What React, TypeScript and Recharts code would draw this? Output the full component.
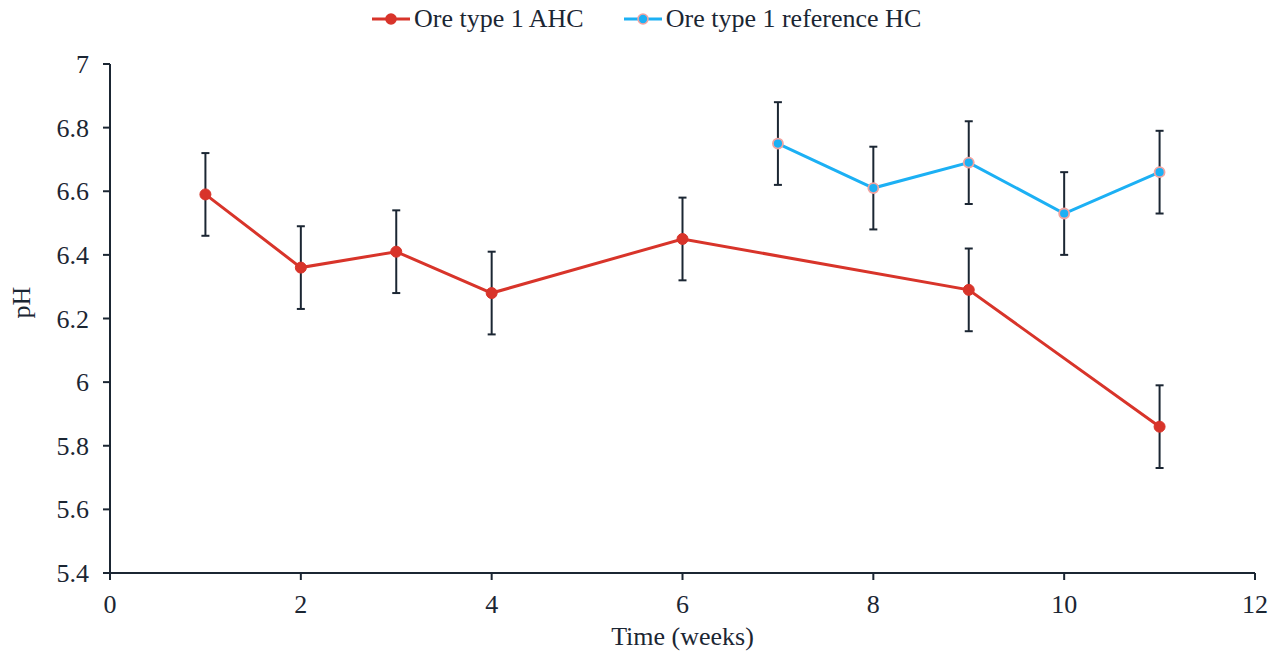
import React from "react";
import {
  ComposedChart,
  Line,
  XAxis,
  YAxis,
  ErrorBar,
} from "recharts";

// Sampling weeks for each series
const ahcWeeks = [1, 2, 3, 4, 6, 9, 11];
const ahcPH = [6.59, 6.36, 6.41, 6.28, 6.45, 6.29, 5.86];
const ahcErr = [0.13, 0.13, 0.13, 0.13, 0.13, 0.13, 0.13];

const refWeeks = [7, 8, 9, 10, 11];
const refPH = [6.75, 6.61, 6.69, 6.53, 6.66];
const refErr = [0.13, 0.13, 0.13, 0.13, 0.13];

const xTicks = [0, 2, 4, 6, 8, 10, 12];
const yTicks = [5.4, 5.6, 5.8, 6, 6.2, 6.4, 6.6, 6.8, 7];

const ahcName = "Ore type 1 AHC";
const refName = "Ore type 1 reference HC";

const RED = "#d8342a";
const BLUE = "#1cb0f4";
const PINK = "#f3a3a0";
const INK = "#1b2633";
const FONT = "Liberation Serif";
const FS = 26;

const ahcData = ahcWeeks.map((w, i) => ({ week: w, ph: ahcPH[i], err: ahcErr[i] }));
const refData = refWeeks.map((w, i) => ({ week: w, ph: refPH[i], err: refErr[i] }));

const RedDot = (props: any) => {
  const { cx, cy } = props;
  if (cx == null || cy == null) return null;
  return <circle cx={cx} cy={cy} r={5.5} fill={RED} stroke={RED} strokeWidth={1} />;
};

const BlueDot = (props: any) => {
  const { cx, cy } = props;
  if (cx == null || cy == null) return null;
  return <circle cx={cx} cy={cy} r={5} fill={BLUE} stroke={PINK} strokeWidth={1.8} />;
};

const fmt = (v: number) => String(Math.round(v * 10) / 10);

const XTick = (props: any) => {
  const { x, y, payload } = props;
  return (
    <text x={x} y={y} dy={19} textAnchor="middle" fill={INK} fontSize={FS} fontFamily={FONT}>
      {fmt(payload.value)}
    </text>
  );
};

const YTick = (props: any) => {
  const { x, y, payload } = props;
  return (
    <text x={x} y={y} dy={9} textAnchor="end" fill={INK} fontSize={FS} fontFamily={FONT}>
      {fmt(payload.value)}
    </text>
  );
};

const LegendItem = ({ color, dotFill, dotStroke, label, gap }: any) => (
  <div style={{ display: "flex", alignItems: "center", marginRight: gap }}>
    <svg width={40} height={14} style={{ marginRight: 2 }}>
      <line x1={0} y1={7} x2={38} y2={7} stroke={color} strokeWidth={3} />
      <circle cx={19} cy={7} r={5} fill={dotFill} stroke={dotStroke} strokeWidth={1.6} />
    </svg>
    <span>{label}</span>
  </div>
);

export default function App() {
  return (
    <div style={{ position: "absolute", left: 0, top: 0, width: 1282, height: 660, background: "#fff" }}>
      <div
        style={{
          position: "absolute",
          top: 4,
          left: 372,
          display: "flex",
          alignItems: "center",
          fontFamily: FONT,
          fontSize: FS,
          color: INK,
          whiteSpace: "nowrap",
        }}
      >
        <LegendItem color={RED} dotFill={RED} dotStroke={RED} label={ahcName} gap={40} />
        <LegendItem color={BLUE} dotFill={BLUE} dotStroke={PINK} label={refName} gap={0} />
      </div>
      <ComposedChart
        width={1282}
        height={660}
        margin={{ top: 64, right: 27, bottom: 27, left: 0 }}
      >
        <XAxis
          xAxisId="main"
          dataKey="week"
          type="number"
          domain={[0, 12]}
          ticks={xTicks}
          allowDuplicatedCategory={false}
          height={60}
          tickSize={7}
          tickMargin={14}
          axisLine={{ stroke: INK, strokeWidth: 2 }}
          tickLine={{ stroke: INK, strokeWidth: 2 }}
          tick={<XTick />}
          label={{ value: "Time (weeks)", position: "insideBottom", offset: -12, fill: INK, fontSize: FS, fontFamily: FONT }}
        />
        <XAxis
          xAxisId="top"
          orientation="top"
          type="number"
          domain={[0, 12]}
          height={0}
          tick={false}
          tickLine={false}
          axisLine={{ stroke: INK, strokeWidth: 2 }}
        />
        <YAxis
          yAxisId="main"
          type="number"
          domain={[5.4, 7]}
          ticks={yTicks}
          width={110}
          tickSize={7}
          tickMargin={14}
          axisLine={{ stroke: INK, strokeWidth: 2 }}
          tickLine={{ stroke: INK, strokeWidth: 2 }}
          tick={<YTick />}
          label={{ value: "pH", angle: -90, position: "insideLeft", offset: 21, fill: INK, fontSize: FS, fontFamily: FONT }}
        />
        <YAxis
          yAxisId="right"
          orientation="right"
          type="number"
          domain={[5.4, 7]}
          width={0}
          tick={false}
          tickLine={false}
          axisLine={{ stroke: INK, strokeWidth: 2 }}
        />
        <Line
          xAxisId="main"
          yAxisId="main"
          data={ahcData}
          dataKey="ph"
          name={ahcName}
          type="linear"
          stroke={RED}
          strokeWidth={3}
          dot={<RedDot />}
          activeDot={false}
          isAnimationActive={false}
        >
          <ErrorBar dataKey="err" direction="y" width={4} stroke={INK} strokeWidth={2} isAnimationActive={false} />
        </Line>
        <Line
          xAxisId="main"
          yAxisId="main"
          data={refData}
          dataKey="ph"
          name={refName}
          type="linear"
          stroke={BLUE}
          strokeWidth={3}
          dot={<BlueDot />}
          activeDot={false}
          isAnimationActive={false}
        >
          <ErrorBar dataKey="err" direction="y" width={4} stroke={INK} strokeWidth={2} isAnimationActive={false} />
        </Line>
      </ComposedChart>
    </div>
  );
}
